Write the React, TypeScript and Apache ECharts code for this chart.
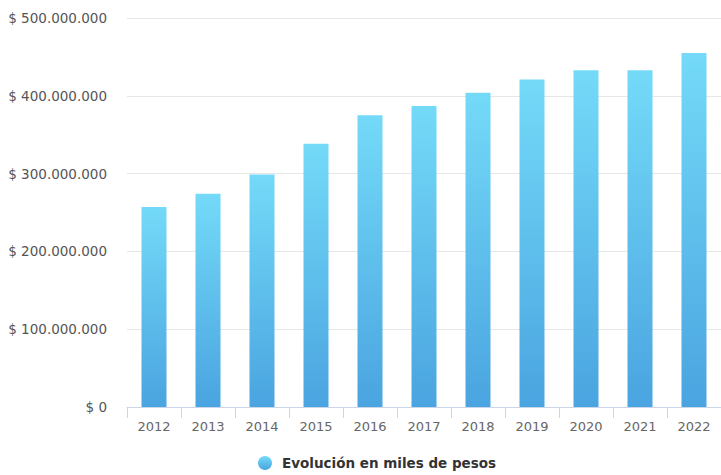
import React, { useEffect, useRef } from "react";
import * as echarts from "echarts";

const years = ["2012", "2013", "2014", "2015", "2016", "2017", "2018", "2019", "2020", "2021", "2022"];
const values = [257000000, 274000000, 299000000, 338500000, 375000000, 387000000, 404000000, 421000000, 433000000, 433000000, 455000000];
const seriesName = "Evolución en miles de pesos";

function fmt(v: number): string {
  return "$ " + String(Math.round(v)).replace(/\B(?=(\d{3})+(?!\d))/g, ".");
}

export default function App() {
  const ref = useRef<HTMLDivElement>(null);
  useEffect(() => {
    document.body.style.margin = "0";
    const chart = echarts.init(ref.current!, null, { renderer: "svg" });
    const font = "DejaVu Sans";
    chart.setOption({
      animation: false,
      backgroundColor: "#ffffff",
      grid: { left: 127, right: -8, top: 18, bottom: 68, containLabel: false },
      legend: {
        data: [seriesName],
        left: 253,
        top: 451,
        padding: 5,
        icon: "circle",
        itemWidth: 14,
        itemHeight: 14,
        itemGap: 10,
        textStyle: { fontFamily: font, fontSize: 13.5, fontWeight: "bold", color: "#333333", padding: [0, 0, 0, 5] },
      },
      xAxis: {
        type: "category",
        data: years,
        axisLine: { show: true, lineStyle: { color: "#ccd6eb", width: 1 } },
        axisTick: { show: true, length: 11, lineStyle: { color: "#ccd6eb" } },
        axisLabel: { color: "#666666", fontFamily: font, fontSize: 13, margin: 13 },
      },
      yAxis: {
        type: "value",
        min: 0,
        max: 500000000,
        interval: 100000000,
        axisLine: { show: false },
        axisTick: { show: false },
        splitLine: { lineStyle: { color: "#e6e6e6", width: 1 } },
        axisLabel: { color: "#555555", fontFamily: font, fontSize: 13.5, margin: 20, formatter: (v: number) => fmt(v) },
      },
      series: [
        {
          name: seriesName,
          type: "bar",
          data: values,
          barWidth: 25,
          itemStyle: {
            color: new echarts.graphic.LinearGradient(0, 0, 0, 1, [
              { offset: 0, color: "#74daf8" },
              { offset: 1, color: "#4aa4e0" },
            ]),
          },
        },
      ],
    });
    return () => chart.dispose();
  }, []);
  return <div ref={ref} style={{ width: 721, height: 475 }} />;
}
